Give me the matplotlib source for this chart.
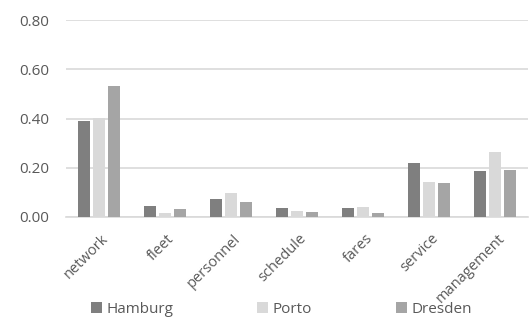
import numpy as np
import matplotlib
matplotlib.use('Agg')
from matplotlib import pyplot as plt
from matplotlib.transforms import ScaledTranslation

# shares per category for each city
categories = ['network', 'fleet', 'personnel', 'schedule', 'fares', 'service', 'management']
hamburg = [0.392, 0.045, 0.072, 0.038, 0.038, 0.218, 0.188]
porto = [0.401, 0.018, 0.098, 0.026, 0.041, 0.142, 0.266]
dresden = [0.534, 0.031, 0.061, 0.020, 0.015, 0.137, 0.193]
yticks = [0.0, 0.2, 0.4, 0.6, 0.8]

plt.rcParams['font.family'] = ['Open Sans', 'DejaVu Sans']
txt = '#595959'

fig = plt.figure(figsize=(5.3, 3.27), dpi=100)
ax = fig.add_axes([66 / 530, 1 - 217 / 327, 462 / 530, (217 - 20.3) / 327])

x = np.arange(len(categories))
w = 0.171
step = 0.227
ax.bar(x - step, hamburg, w, color='#7f7f7f', label='Hamburg', zorder=3)
ax.bar(x, porto, w, color='#d9d9d9', label='Porto', zorder=3)
ax.bar(x + step, dresden, w, color='#a5a5a5', label='Dresden', zorder=3)

ax.set_xlim(-0.5, len(categories) - 0.5)
ax.set_ylim(0, 0.8)
ax.set_yticks(yticks)
ax.set_yticklabels(['%.2f' % v for v in yticks], fontsize=11, color=txt)
ax.yaxis.grid(True, color='#d9d9d9', linewidth=1.2, zorder=0)
ax.tick_params(axis='y', length=0, pad=12)
ax.tick_params(axis='x', length=0, pad=3)
ax.set_xticks(x)
ax.set_xticklabels(categories, rotation=45, ha='right', va='top',
                   rotation_mode='anchor', fontsize=10.5, color=txt)
# move rotated labels a little down and right of the group centre
shift = ScaledTranslation(2 / 100, -10 / 100, fig.dpi_scale_trans)
for lab in ax.get_xticklabels():
    lab.set_transform(lab.get_transform() + shift)
for s in ['top', 'right', 'left']:
    ax.spines[s].set_visible(False)
ax.spines['bottom'].set_color('#d9d9d9')
ax.spines['bottom'].set_linewidth(1.2)

fig.legend(loc='lower center', bbox_to_anchor=(0.531, -0.01), ncol=3, frameon=False,
           fontsize=11, labelcolor=txt, handlelength=0.7, handleheight=0.7,
           handletextpad=0.3, columnspacing=5.5)

fig.savefig('out.png', dpi=100)
